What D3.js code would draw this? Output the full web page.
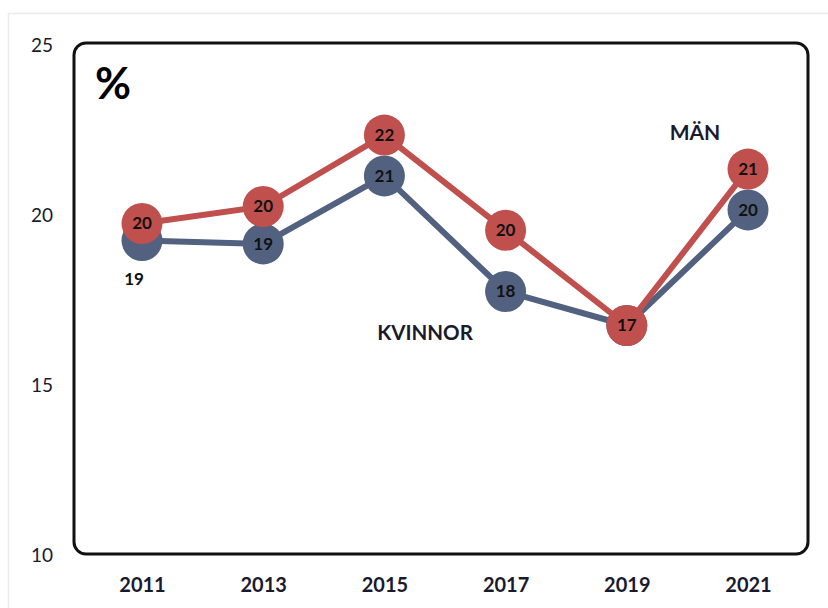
<!DOCTYPE html>
<html>
<head>
<meta charset="utf-8">
<script src="https://cdn.jsdelivr.net/npm/d3@7"></script>
<style>
  body { margin: 0; background: #fff; }
  svg { display: block; font-family: Lato, "Open Sans", sans-serif; }
</style>
</head>
<body>
<div id="chart"></div>
<script>
const width = 828;
const height = 608;

// data
const years = [2011, 2013, 2015, 2017, 2019, 2021];
const kvinnor = [19.25, 19.15, 21.15, 17.75, 16.75, 20.15];
const man = [19.75, 20.25, 22.35, 19.55, 16.75, 21.35];
const kvinnorLabels = ['19', '19', '21', '18', '17', '20'];
const manLabels = ['20', '20', '22', '20', '17', '21'];
const yTicks = [10, 15, 20, 25];

const frame = { left: 74, right: 808, top: 43, bottom: 554 };

const svg = d3.select('#chart')
  .append('svg')
  .attr('width', width)
  .attr('height', height);

// faint page border
svg.append('path')
  .attr('d', `M8.5,${height} V13.5 H${width}`)
  .attr('fill', 'none')
  .attr('stroke', '#ebebeb')
  .attr('stroke-width', 1.5);

const xScale = d3.scaleLinear()
  .domain([2011, 2021])
  .range([142, 748]);

const yScale = d3.scaleLinear()
  .domain([10, 25])
  .range([frame.bottom + 1, frame.top + 2]);

// frame
svg.append('rect')
  .attr('x', frame.left)
  .attr('y', frame.top)
  .attr('width', frame.right - frame.left)
  .attr('height', frame.bottom - frame.top)
  .attr('rx', 12)
  .attr('fill', 'none')
  .attr('stroke', '#111')
  .attr('stroke-width', 3);

// axes
const yAxis = svg.append('g')
  .attr('transform', `translate(${frame.left}, 0)`)
  .call(d3.axisLeft(yScale).tickValues(yTicks).tickSize(0).tickPadding(21));
yAxis.select('.domain').remove();
yAxis.selectAll('text')
  .attr('font-size', 19)
  .attr('font-family', 'Lato, sans-serif')
  .attr('fill', '#1a1a2e');

const xAxis = svg.append('g')
  .attr('transform', `translate(0, ${frame.bottom})`)
  .call(d3.axisBottom(xScale).tickValues(years).tickFormat(d3.format('d')).tickSize(0).tickPadding(24));
xAxis.select('.domain').remove();
xAxis.selectAll('text')
  .attr('font-size', 20)
  .attr('font-weight', 'bold')
  .attr('font-family', 'Lato, sans-serif')
  .attr('fill', '#1a1a2e');

// percent sign
svg.append('text')
  .attr('x', 113)
  .attr('y', 99)
  .attr('text-anchor', 'middle')
  .attr('font-size', 44)
  .attr('font-weight', 'bold')
  .text('%');

const line = d3.line()
  .x((d) => xScale(d.year))
  .y((d) => yScale(d.value));

function drawSeries(values, labels, color, cls) {
  const pts = years.map((year, i) => ({ year, value: values[i], label: labels[i], i }));
  const g = svg.append('g').attr('class', cls);
  g.append('path')
    .datum(pts)
    .attr('d', line)
    .attr('fill', 'none')
    .attr('stroke', color)
    .attr('stroke-width', 6)
    .attr('stroke-linejoin', 'round');
  g.selectAll('circle')
    .data(pts)
    .join('circle')
    .attr('cx', (d) => xScale(d.year))
    .attr('cy', (d) => yScale(d.value))
    .attr('r', 20.5)
    .attr('fill', color);
  return { g, pts };
}

const blue = drawSeries(kvinnor, kvinnorLabels, '#51617f', 'kvinnor');
const red = drawSeries(man, manLabels, '#c0504d', 'man');

// data labels (first kvinnor label sits under the point)
blue.g.selectAll('text')
  .data(blue.pts)
  .join('text')
  .attr('x', (d) => xScale(d.year) + (d.i === 0 ? -8 : 0))
  .attr('y', (d) => yScale(d.value) + (d.i === 0 ? 39 : 0))
  .attr('dy', '0.35em')
  .attr('text-anchor', 'middle')
  .attr('font-size', 17)
  .attr('font-weight', 'bold')
  .attr('fill', '#111')
  .text((d) => d.label);

red.g.selectAll('text')
  .data(red.pts)
  .join('text')
  .attr('x', (d) => xScale(d.year))
  .attr('y', (d) => yScale(d.value))
  .attr('dy', '0.35em')
  .attr('text-anchor', 'middle')
  .attr('font-size', 17)
  .attr('font-weight', 'bold')
  .attr('fill', '#111')
  .text((d) => d.label);

// series names
svg.append('text')
  .attr('x', 425)
  .attr('y', 333)
  .attr('dy', '0.35em')
  .attr('text-anchor', 'middle')
  .attr('font-size', 20.5)
  .attr('font-weight', 'bold')
  .attr('fill', '#1a1a2e')
  .text('KVINNOR');

svg.append('text')
  .attr('x', 695)
  .attr('y', 133)
  .attr('dy', '0.35em')
  .attr('text-anchor', 'middle')
  .attr('font-size', 21)
  .attr('font-weight', 'bold')
  .attr('fill', '#1a1a2e')
  .text('MÄN');
</script>
</body>
</html>
